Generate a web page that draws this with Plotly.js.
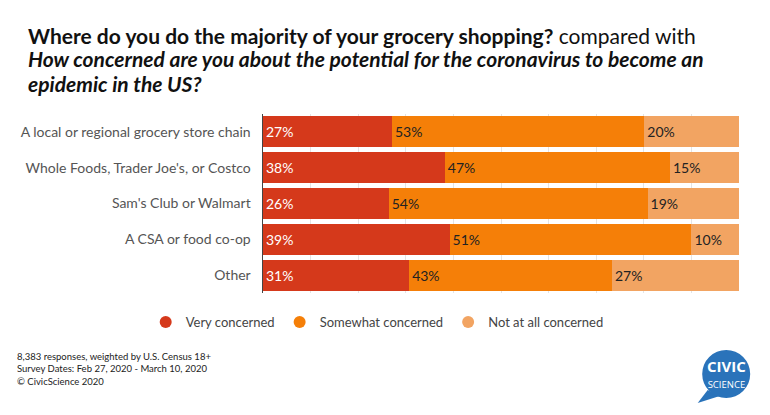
<!DOCTYPE html>
<html>
<head>
<meta charset="utf-8">
<script src="https://cdn.plot.ly/plotly-3.0.1.min.js"></script>
<style>html,body{margin:0;padding:0;background:#fff;}#chart{width:770px;height:415px;}</style>
</head>
<body>
<div id="chart"></div>
<script>
const categories = [
  "A local or regional grocery store chain",
  "Whole Foods, Trader Joe's, or Costco",
  "Sam's Club or Walmart",
  "A CSA or food co-op",
  "Other"
];
const seriesNames = ["Very concerned", "Somewhat concerned", "Not at all concerned"];
const veryConcerned = [27.1, 38.2, 26.4, 39.2, 30.7];
const somewhatConcerned = [53.0, 47.3, 54.4, 50.8, 42.6];
const notConcerned = [19.9, 14.5, 19.2, 10.0, 26.7];
const veryLabels = ["27%", "38%", "26%", "39%", "31%"];
const somewhatLabels = ["53%", "47%", "54%", "51%", "43%"];
const notLabels = ["20%", "15%", "19%", "10%", "27%"];
const colors = ["#D5391B", "#F57F08", "#F2A462"];

const FONT = "Lato, 'Open Sans', sans-serif";
const L = 263.3, R = 739.3, T = 114, B = 293;
const px = x => (x - L) / (R - L);
const py = y => (B - y) / (B - T);

function barTrace(vals, labels, i, textColor) {
  return {
    type: "bar", orientation: "h", y: categories, x: vals,
    name: seriesNames[i], showlegend: false,
    marker: {color: colors[i], line: {width: 0}},
    text: labels, textposition: "inside", insidetextanchor: "start",
    constraintext: "none", textangle: 0,
    textfont: {family: FONT, size: 14, color: textColor},
    hoverinfo: "skip"
  };
}
function legendTrace(i) {
  return {
    type: "scatter", mode: "markers", x: [null], y: [null], name: seriesNames[i],
    marker: {color: colors[i], size: 12, symbol: "circle"}, showlegend: true, hoverinfo: "skip"
  };
}

const data = [
  barTrace(veryConcerned, veryLabels, 0, "#ffffff"),
  barTrace(somewhatConcerned, somewhatLabels, 1, "#222222"),
  barTrace(notConcerned, notLabels, 2, "#222222"),
  legendTrace(0), legendTrace(1), legendTrace(2)
];

const TFONT = "Lato, sans-serif";
function titleLine(text, yc) {
  return {text: text, xref: "paper", yref: "paper", x: px(26), y: py(yc),
          xanchor: "left", yanchor: "middle", align: "left", showarrow: false,
          font: {family: TFONT, size: 21, color: "#111111"}};
}

const layout = {
  width: 770, height: 415,
  margin: {l: L, r: 770 - R, t: T, b: 415 - B, pad: 0, autoexpand: false},
  paper_bgcolor: "#ffffff", plot_bgcolor: "#ffffff",
  barmode: "stack", bargap: 0.13,
  showlegend: true,
  hovermode: false,
  xaxis: {
    range: [0, 100], showticklabels: false, ticks: "", zeroline: false,
    showgrid: true, gridcolor: "#e4e4e4", gridwidth: 1, dtick: 10, showline: false, fixedrange: true
  },
  yaxis: {
    autorange: "reversed", type: "category", showline: true, linecolor: "#444444", linewidth: 1.5,
    ticks: "", ticklabelstandoff: 8, showgrid: false, zeroline: false,
    tickfont: {family: FONT, size: 14, color: "#555555"}, fixedrange: true
  },
  legend: {
    orientation: "h", traceorder: "normal",
    x: px(146), xanchor: "left",
    y: py(322), yanchor: "middle",
    font: {family: FONT, size: 13, color: "#444444"}, itemsizing: "constant",
    bgcolor: "rgba(0,0,0,0)", tracegroupgap: 0
  },
  annotations: [
    titleLine("<b>Where do you do the majority of your grocery shopping?</b> compared with", 35),
    titleLine("<b><i>How concerned are you about the potential for the coronavirus to become an</i></b>", 59),
    titleLine("<b><i>epidemic in the US?</i></b>", 83),
    {text: "8,383 responses, weighted by U.S. Census 18+<br>Survey Dates: Feb 27, 2020 - March 10, 2020<br>© CivicScience 2020",
     xref: "paper", yref: "paper", x: px(15), y: py(369), xanchor: "left", yanchor: "middle", align: "left",
     showarrow: false, font: {family: "Lato, sans-serif", size: 9.5, color: "#222222"}},
    {text: "<b><span style='font-size:15px'>CIVIC</span></b><br><span style='font-size:9.5px'>SCIENCE</span>",
     xref: "paper", yref: "paper", x: px(726.5), y: py(373), xanchor: "center", yanchor: "middle",
     showarrow: false, font: {family: "'Open Sans', sans-serif", size: 12, color: "#ffffff"}}
  ],
  shapes: [
    {type: "path", xref: "paper", yref: "paper",
     path: `M ${px(708)} ${py(390)} L ${px(698)} ${py(403)} L ${px(720)} ${py(396)} Z`,
     fillcolor: "#2A73BA", line: {width: 0}},
    {type: "circle", xref: "paper", yref: "paper",
     x0: px(702.5), x1: px(750.5), y0: py(398), y1: py(350),
     fillcolor: "#2A73BA", line: {width: 0}}
  ]
};

Plotly.newPlot("chart", data, layout, {displayModeBar: false, staticPlot: true});
</script>
</body>
</html>
